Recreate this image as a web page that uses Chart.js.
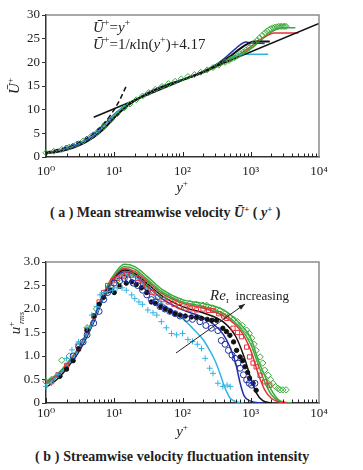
<!DOCTYPE html>
<html>
<head>
<meta charset="utf-8">
<script src="https://cdn.jsdelivr.net/npm/chart.js@4.4.0/dist/chart.umd.min.js"></script>
<style>
  body { margin: 0; background: #fff; width: 363px; height: 470px; position: relative; overflow: hidden; font-family: 'Liberation Serif', serif; }
  canvas { position: absolute; left: 0; }
  #c1 { top: 0; }
  #c2 { top: 220px; }
  .cap { position: absolute; font-size: 14px; font-weight: bold; color: #222; white-space: nowrap; line-height: 16px; }
  .cap sup { font-size: 9px; vertical-align: 5px; line-height: 0; }
</style>
</head>
<body>
<canvas id="c1" width="363" height="200"></canvas>
<div class="cap" style="left:50px;top:205px">( a ) Mean streamwise velocity <i>Ū</i><sup>+</sup> ( <i>y</i><sup>+</sup> )</div>
<canvas id="c2" width="363" height="225"></canvas>
<div class="cap" style="left:35px;top:449px;letter-spacing:0.1px">( b ) Streamwise velocity fluctuation intensity</div>
<script>
// shared axis ticks
const xTickVals = [1, 10, 100, 1000, 10000];
const xTickLabels = ['10⁰', '10¹', '10²', '10³', '10⁴'];
const yTicksA = [0, 5, 10, 15, 20, 25, 30];
const yTicksB = [0, 0.5, 1.0, 1.5, 2.0, 2.5, 3.0];

// (a) mean velocity: reference laws
const lawLinX = [1, 2, 3, 4, 5, 6, 8, 10, 12, 15];
const lawLinU = [1, 2, 3, 4, 5, 6, 8, 10, 12, 15];
const lawLogX = [5, 10000];
const lawLogU = [8.4, 28.2];

// (a) profiles (lines)
const aCyanX = [1, 1.5, 2, 3, 5, 7, 10, 15, 20, 30, 50, 100, 200, 300, 400, 500, 600, 800, 1800];
const aCyanU = [0.9, 1.3, 1.8, 2.8, 4.7, 6.6, 8.9, 11.0, 12.0, 13.4, 14.9, 16.4, 18.0, 19.2, 20.2, 20.9, 21.4, 21.7, 21.7];
const aBlueX = [1, 1.5, 2, 3, 5, 7, 10, 15, 20, 30, 50, 100, 200, 300, 400, 500, 600, 700, 850, 1000, 1600];
const aBlueU = [0.9, 1.3, 1.8, 2.8, 4.8, 6.8, 9.0, 11.0, 12.0, 13.5, 14.9, 16.4, 18.1, 19.4, 20.7, 21.9, 22.9, 23.7, 24.3, 24.1, 24.0];
const aBlackX = [1, 1.5, 2, 3, 5, 7, 10, 15, 20, 30, 50, 100, 200, 300, 400, 500, 700, 900, 1100, 1900];
const aBlackU = [0.8, 1.1, 1.5, 2.4, 4.2, 5.9, 8.3, 10.6, 11.9, 13.3, 14.8, 16.3, 17.9, 19.2, 20.3, 21.3, 22.9, 23.9, 24.4, 24.4];
const aRedX = [1, 1.5, 2, 3, 5, 7, 10, 15, 20, 30, 50, 100, 200, 300, 500, 700, 1000, 1300, 1700, 2200, 5000];
const aRedU = [0.9, 1.3, 1.8, 2.8, 4.7, 6.7, 8.9, 10.9, 12.0, 13.4, 14.8, 16.3, 17.9, 19.0, 20.7, 21.8, 23.3, 24.6, 25.6, 26.2, 26.2];
const aGreenX = [1, 1.5, 2, 3, 5, 7, 10, 15, 20, 30, 50, 100, 200, 300, 500, 800, 1100, 1500, 2000, 2500, 3000, 4500];
const aGreenU = [0.9, 1.3, 1.8, 2.8, 4.7, 6.7, 8.9, 10.9, 12.0, 13.4, 14.8, 16.3, 17.8, 18.9, 20.5, 22.0, 23.3, 25.0, 26.4, 27.1, 27.3, 27.3];
// (a) markers
const aBlueMkX = [2, 2.5, 3, 4, 5, 6, 7, 8.5];
const aBlueMkU = [2.0, 2.4, 2.9, 3.9, 4.8, 5.7, 6.6, 7.9];
const aGreenMkX = [1, 1.3, 1.7, 2.2, 2.8, 3.5, 4.5, 5.5, 7, 9, 11, 14, 17, 21, 26, 32, 40, 50, 62, 78, 96, 120, 150, 185, 230, 280, 340, 420, 480, 520, 580, 640, 710, 780, 860, 950, 1050, 1150, 1250, 1350, 1470, 1600, 1720, 1850, 1970, 2100, 2250, 2400, 2550, 2700, 2850, 3000, 3150, 3300];
const aGreenMkU = [0.9, 1.2, 1.6, 2.1, 2.7, 3.4, 4.3, 5.1, 6.4, 7.9, 9.1, 10.4, 11.2, 12.1, 12.9, 13.6, 14.3, 14.9, 15.5, 16.0, 16.5, 17.0, 17.4, 17.9, 18.4, 18.9, 19.4, 20.0, 20.4, 20.7, 21.0, 21.4, 21.8, 22.2, 22.6, 23.1, 23.6, 24.2, 24.7, 25.2, 25.7, 26.2, 26.6, 26.9, 27.1, 27.3, 27.4, 27.5, 27.6, 27.6, 27.6, 27.6, 27.6, 27.6];

// (b) fluctuation intensity: lines
const bCyanX = [1, 1.5, 2, 3, 5, 7, 10, 14, 20, 30, 50, 100, 150, 200, 250, 300, 350, 400, 450, 500, 600, 800];
const bCyanU = [0.4, 0.58, 0.78, 1.12, 1.75, 2.25, 2.62, 2.75, 2.68, 2.44, 2.12, 1.8, 1.55, 1.35, 1.12, 0.9, 0.65, 0.4, 0.22, 0.1, 0.03, 0];
const bBlueX = [1, 1.5, 2, 3, 5, 7, 10, 14, 20, 30, 50, 100, 200, 300, 400, 500, 600, 700, 800, 1000, 1500];
const bBlueU = [0.4, 0.58, 0.78, 1.12, 1.74, 2.25, 2.64, 2.79, 2.72, 2.5, 2.22, 1.98, 1.82, 1.65, 1.45, 1.18, 0.85, 0.42, 0.15, 0.04, 0];
const bBlackX = [1, 1.5, 2, 3, 5, 7, 10, 14, 20, 30, 50, 100, 200, 400, 600, 800, 1000, 1200, 1500, 2000];
const bBlackU = [0.33, 0.52, 0.73, 1.08, 1.72, 2.24, 2.65, 2.83, 2.76, 2.55, 2.28, 2.05, 1.92, 1.72, 1.42, 0.98, 0.53, 0.22, 0.05, 0];
const bRedX = [1, 1.5, 2, 3, 5, 7, 10, 14, 20, 30, 50, 100, 200, 400, 700, 1000, 1300, 1600, 2000, 2500, 3500];
const bRedU = [0.42, 0.6, 0.8, 1.15, 1.78, 2.3, 2.68, 2.86, 2.8, 2.6, 2.33, 2.12, 2.02, 1.85, 1.55, 1.12, 0.6, 0.28, 0.1, 0.03, 0];
const bGreenX = [1, 1.5, 2, 3, 5, 7, 10, 14, 20, 30, 50, 100, 200, 400, 700, 1000, 1300, 1700, 2000, 2500, 3000, 4000];
const bGreenU = [0.45, 0.63, 0.83, 1.18, 1.82, 2.34, 2.74, 2.95, 2.9, 2.7, 2.42, 2.2, 2.12, 1.98, 1.68, 1.38, 0.9, 0.5, 0.28, 0.08, 0.02, 0];
const bGreen2X = [1, 1.5, 2, 3, 5, 7, 10, 14, 20, 30, 50, 100, 200, 400, 700, 1000, 1300, 1600, 2000, 2500, 3500];
const bGreen2U = [0.44, 0.62, 0.82, 1.16, 1.8, 2.31, 2.7, 2.9, 2.85, 2.64, 2.37, 2.15, 2.06, 1.9, 1.6, 1.25, 0.8, 0.45, 0.18, 0.05, 0];

// (b) markers
const bCyanMkX = [1, 1.2, 1.5, 2, 2.4, 3, 4, 4.7, 5.5, 6.2, 7, 8, 9.5, 11, 13, 15, 18, 20, 23, 26, 31, 37, 42, 49, 58, 69, 82, 100, 120, 140, 165, 190, 215, 250, 280, 330, 390, 450, 500];
const bCyanMkU = [0.35, 0.42, 0.6, 0.95, 1.13, 1.3, 1.6, 1.87, 2.05, 2.3, 2.35, 2.37, 2.4, 2.45, 2.45, 2.4, 2.3, 2.22, 2.15, 2.1, 1.98, 1.92, 1.87, 1.73, 1.6, 1.48, 1.45, 1.48, 1.35, 1.31, 1.25, 1.16, 0.95, 0.74, 0.63, 0.42, 0.35, 0.38, 0.35];
const bBlueMkX = [2.5, 3, 3.5, 4, 5, 6, 7, 8, 9, 10, 12, 14, 16, 19, 22, 26, 30, 35, 40, 47, 55, 65, 78, 92, 115, 140, 180, 220, 265, 330, 370, 420, 470, 530, 590, 650, 700, 780, 870, 950, 1030, 1150];
const bBlueMkU = [1.0, 1.2, 1.3, 1.45, 1.7, 1.95, 2.2, 2.35, 2.45, 2.55, 2.6, 2.65, 2.62, 2.55, 2.5, 2.4, 2.3, 2.2, 2.15, 2.05, 2.0, 1.95, 1.9, 1.85, 1.8, 1.78, 1.73, 1.65, 1.59, 1.54, 1.33, 1.25, 1.12, 1.02, 0.95, 0.85, 0.74, 0.6, 0.49, 0.42, 0.38, 0.42];
const bBlackMkX = [1.6, 2, 2.5, 3, 4, 5, 6, 7, 8, 9, 10, 12, 15, 18, 21, 25, 30, 35, 40, 48, 56, 66, 78, 92, 110, 135, 160, 190, 230, 270, 315, 390, 440, 495, 560, 620, 700, 760, 820, 900, 960, 1080, 1200];
const bBlackMkU = [0.57, 0.72, 0.9, 1.15, 1.55, 1.85, 2.1, 2.25, 2.38, 2.4, 2.35, 2.48, 2.55, 2.58, 2.52, 2.45, 2.35, 2.15, 2.12, 2.05, 2.0, 1.95, 1.9, 1.87, 1.85, 1.83, 1.82, 1.8, 1.78, 1.76, 1.76, 1.59, 1.52, 1.44, 1.3, 1.12, 0.98, 0.9, 0.77, 0.65, 0.53, 0.42, 0.27];
const bRedMkX = [1.2, 1.5, 2, 3, 4, 5, 6, 7, 8, 9.5, 11, 13, 15, 18, 22, 26, 30, 36, 43, 52, 62, 75, 90, 110, 130, 160, 200, 240, 280, 340, 400, 445, 550, 640, 730, 870, 960, 1080, 1200, 1370, 1600, 1900];
const bRedMkU = [0.45, 0.6, 0.8, 1.15, 1.55, 1.85, 2.15, 2.35, 2.5, 2.6, 2.65, 2.7, 2.75, 2.72, 2.65, 2.55, 2.45, 2.35, 2.25, 2.2, 2.15, 2.1, 2.05, 2.02, 2.0, 1.98, 2.0, 1.97, 1.97, 1.9, 1.85, 1.8, 1.59, 1.5, 1.41, 1.19, 0.98, 0.85, 0.77, 0.59, 0.45, 0.38];
const bGreenMkX = [1, 1.2, 1.7, 2.2, 3, 4, 5.5, 7, 9, 11, 14, 17, 21, 26, 32, 40, 50, 62, 78, 96, 128, 160, 200, 225, 280, 350, 420, 490, 560, 640, 750, 870, 950, 1030, 1120, 1200, 1370, 1500, 1600, 1800, 1950, 2100, 2300, 2500, 2700, 2950, 3300];
const bGreenMkU = [0.45, 0.5, 0.91, 1.0, 1.25, 1.6, 2.0, 2.3, 2.5, 2.6, 2.7, 2.75, 2.76, 2.6, 2.5, 2.4, 2.3, 2.25, 2.2, 2.15, 2.12, 2.1, 2.08, 2.08, 2.02, 1.97, 1.9, 1.83, 1.78, 1.73, 1.65, 1.55, 1.48, 1.38, 1.25, 1.12, 0.98, 0.85, 0.7, 0.59, 0.5, 0.42, 0.35, 0.31, 0.28, 0.28, 0.28];

const CYAN = '#31b4e4', BLUE = '#2131a3', BLACK = '#111', RED = '#e5323b', GREEN = '#3bab3b';
const serif = "'Liberation Serif', 'DejaVu Serif', serif";
const I13 = 'italic 13px ' + serif, R13 = '13px ' + serif, S9 = '9px ' + serif, S8 = 'italic 8px ' + serif;
const I15 = 'italic 15px ' + serif, R15 = '15px ' + serif, S10 = '10px ' + serif;

const pts = (xs, ys) => xs.map((x, i) => ({ x: x, y: ys[i] }));

function line(xs, ys, color, extra) {
  return Object.assign({ data: pts(xs, ys), showLine: true, borderColor: color, borderWidth: 1.5,
    pointRadius: 0, cubicInterpolationMode: 'monotone', fill: false }, extra || {});
}
function marks(xs, ys, color, style, r, filled) {
  return { data: pts(xs, ys), showLine: false, pointStyle: style, pointRadius: r, borderColor: color,
    backgroundColor: filled ? color : 'rgba(0,0,0,0)', pointBorderWidth: 1, clip: 6 };
}

// draw a run of text pieces [font, text, dy]
function runs(ctx, x, y, parts, center) {
  let w = 0;
  parts.forEach(p => { ctx.font = p[0]; w += ctx.measureText(p[1]).width; });
  if (center) x -= w / 2;
  parts.forEach(p => { ctx.font = p[0]; ctx.fillText(p[1], x, y + (p[2] || 0)); x += ctx.measureText(p[1]).width; });
}

function xAxis(h, pad) {
  return {
    type: 'logarithmic', min: 1, max: 10000,
    afterBuildTicks: s => { s.ticks = xTickVals.map(v => ({ value: v })); },
    ticks: { callback: (v, i) => xTickLabels[i], autoSkip: false, maxRotation: 0, padding: pad,
      color: '#222', font: { family: serif, size: 13 } },
    grid: { display: false, drawTicks: false },
    border: { color: '#333', width: 1.5 },
    afterFit: s => { s.height = h; }
  };
}
function yAxis(vals, max, fmt) {
  return {
    type: 'linear', min: 0, max: max,
    afterBuildTicks: s => { s.ticks = vals.map(v => ({ value: v })); },
    ticks: { callback: fmt, padding: 2, color: '#222', font: { family: serif, size: 13 } },
    grid: { drawOnChartArea: false, drawTicks: true, tickLength: 4, color: '#333', lineWidth: 1 },
    border: { color: '#333', width: 1.5 },
    afterFit: s => { s.width = 46; }
  };
}

function framePlugin(drawText) {
  return {
    id: 'frame',
    afterDraw(chart) {
      const { ctx, chartArea: a, scales: { x } } = chart;
      ctx.save();
      ctx.strokeStyle = '#8c8c8c'; ctx.lineWidth = 1.5;
      ctx.beginPath(); ctx.moveTo(a.left, a.top); ctx.lineTo(a.right, a.top); ctx.lineTo(a.right, a.bottom); ctx.stroke();
      ctx.strokeStyle = '#222'; ctx.lineWidth = 1;
      ctx.beginPath();
      for (let d = 1; d < 10000; d *= 10) {
        for (let k = 1; k < 10; k++) {
          const px = Math.round(x.getPixelForValue(k * d)) + 0.5;
          const len = k === 1 ? 5 : 3.5;
          ctx.moveTo(px, a.bottom); ctx.lineTo(px, a.bottom - len);
        }
      }
      ctx.stroke();
      ctx.fillStyle = '#222'; ctx.textBaseline = 'alphabetic';
      drawText(ctx, a);
      ctx.restore();
    }
  };
}

const common = {
  responsive: false, animation: false, devicePixelRatio: 1,
  plugins: { legend: { display: false }, tooltip: { enabled: false } }
};

// (a) mean streamwise velocity
new Chart(document.getElementById('c1'), {
  type: 'scatter',
  data: {
    datasets: [
      marks(aGreenMkX, aGreenMkU, GREEN, 'rectRot', 3, false),
      marks(aBlueMkX, aBlueMkU, BLUE, 'circle', 2, false),
      line(lawLinX, lawLinU, BLACK, { borderDash: [5, 3], cubicInterpolationMode: 'default' }),
      line(lawLogX, lawLogU, BLACK, { cubicInterpolationMode: 'default' }),
      line(aBlackX, aBlackU, BLACK, { borderWidth: 2 }),
      line(aCyanX, aCyanU, CYAN),
      line(aBlueX, aBlueU, BLUE),
      line(aRedX, aRedU, RED),
      line(aGreenX, aGreenU, GREEN)
    ]
  },
  options: Object.assign({}, common, {
    layout: { padding: { left: 0, right: 44, top: 15, bottom: 0 } },
    scales: {
      x: xAxis(43, 7),
      y: yAxis(yTicksA, 30, v => String(v))
    }
  }),
  plugins: [framePlugin((ctx, a) => {
    runs(ctx, 93, 32, [[I15, 'Ū'], [S10, '+', -6], [R15, '='], [I15, 'y'], [S10, '+', -6]]);
    runs(ctx, 93, 49, [[I15, 'Ū'], [S10, '+', -6], [R15, '=1/'], [I15, 'κ'], [R15, 'ln('], [I15, 'y'], [S10, '+', -6], [R15, ')+4.17']]);
    runs(ctx, 182, 192, [[I15, 'y'], [S9, '+', -6]], true);
    ctx.save();
    ctx.translate(19, 86); ctx.rotate(-Math.PI / 2);
    runs(ctx, 0, 0, [[I15, 'Ū'], [S9, '+', -6]], true);
    ctx.restore();
  })]
});

// (b) streamwise velocity fluctuation intensity
new Chart(document.getElementById('c2'), {
  type: 'scatter',
  data: {
    datasets: [
      marks(bCyanMkX, bCyanMkU, CYAN, 'cross', 3, false),
      marks(bBlueMkX, bBlueMkU, BLUE, 'circle', 3, false),
      marks(bBlackMkX, bBlackMkU, BLACK, 'circle', 2.2, true),
      marks(bRedMkX, bRedMkU, RED, 'rect', 3, false),
      marks(bGreenMkX, bGreenMkU, GREEN, 'rectRot', 3.2, false),
      line(bCyanX, bCyanU, CYAN),
      line(bBlueX, bBlueU, BLUE),
      line(bBlackX, bBlackU, BLACK),
      line(bRedX, bRedU, RED),
      line(bGreen2X, bGreen2U, GREEN),
      line(bGreenX, bGreenU, GREEN)
    ]
  },
  options: Object.assign({}, common, {
    layout: { padding: { left: 0, right: 44, top: 42, bottom: 0 } },
    scales: {
      x: xAxis(42, 3),
      y: yAxis(yTicksB, 3, v => (v === 0 ? '0' : v.toFixed(1)))
    }
  }),
  plugins: [framePlugin((ctx, a) => {
    runs(ctx, 182, 216, [[I15, 'y'], [S9, '+', -6]], true);
    // Re_tau increasing with arrow
    runs(ctx, 210, 80, [['italic 15px ' + serif, 'Re'], ['italic 9px ' + serif, 'τ', 3], [R13, '  increasing']]);
    const x0 = 176, y0 = 133, x1 = 245, y1 = 84;
    ctx.strokeStyle = '#222'; ctx.lineWidth = 1;
    ctx.beginPath(); ctx.moveTo(x0, y0); ctx.lineTo(x1, y1); ctx.stroke();
    const ang = Math.atan2(y1 - y0, x1 - x0);
    ctx.beginPath();
    ctx.moveTo(x1, y1);
    ctx.lineTo(x1 - 7 * Math.cos(ang - 0.35), y1 - 7 * Math.sin(ang - 0.35));
    ctx.lineTo(x1 - 7 * Math.cos(ang + 0.35), y1 - 7 * Math.sin(ang + 0.35));
    ctx.closePath(); ctx.fill();
    ctx.save();
    ctx.translate(20, 108); ctx.rotate(-Math.PI / 2);
    runs(ctx, 0, 0, [[I15, 'u'], [S9, '+', -6]], true);
    ctx.font = S8; ctx.fillText('rms', 4, 4);
    ctx.restore();
  })]
});
</script>
</body>
</html>
